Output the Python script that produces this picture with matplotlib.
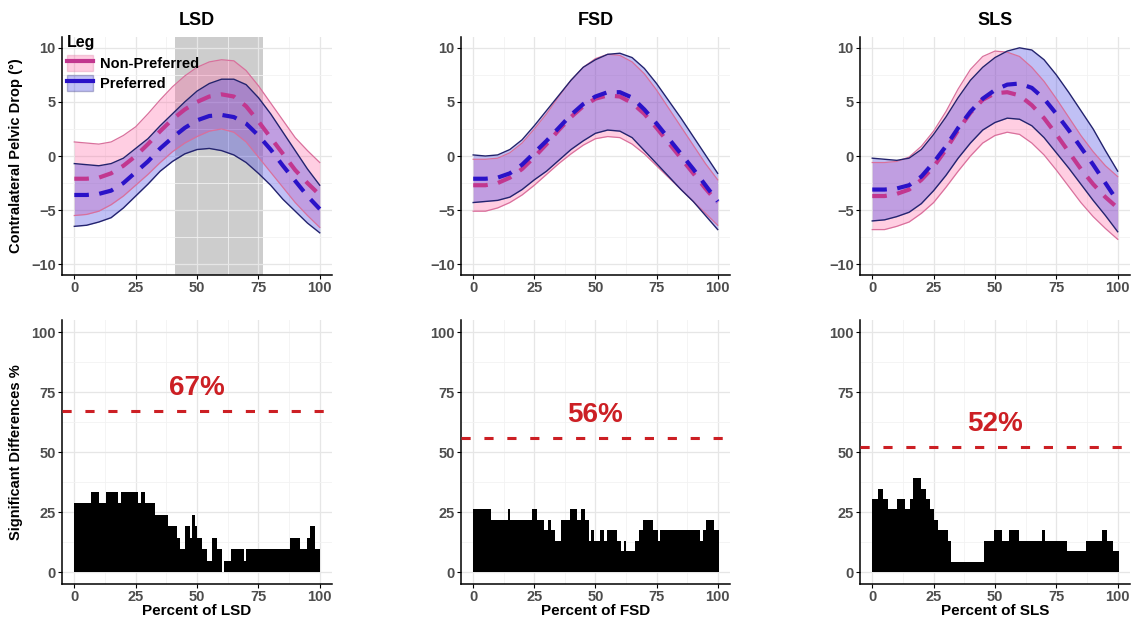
import numpy as np
import matplotlib.pyplot as plt
from matplotlib.patches import Patch
from matplotlib.lines import Line2D
from matplotlib.ticker import MultipleLocator

plt.rcParams['font.family'] = ['Liberation Sans', 'DejaVu Sans']
plt.rcParams['font.weight'] = 'bold'

# ---- datos ----
tareas = ["LSD", "FSD", "SLS"]
pct = np.arange(0, 101, 5)

# caída pélvica: media y desviación (cada 5 %)
lsd_np_mean = [-2.1, -2.1, -2.0, -1.6, -0.9, 0.0, 1.1, 2.3, 3.4, 4.3, 5.0, 5.5, 5.7, 5.5, 4.6, 3.2, 1.7, 0.2, -1.3, -2.5, -3.6]
lsd_np_sd = [3.4, 3.3, 3.1, 2.9, 2.8, 2.7, 2.8, 2.9, 3.0, 3.1, 3.2, 3.2, 3.2, 3.3, 3.3, 3.3, 3.2, 3.1, 3.0, 3.0, 3.0]
lsd_p_mean = [-3.6, -3.6, -3.5, -3.2, -2.5, -1.5, -0.5, 0.7, 1.7, 2.6, 3.3, 3.7, 3.8, 3.6, 3.0, 1.9, 0.6, -0.9, -2.3, -3.7, -4.9]
lsd_p_sd = [2.9, 2.8, 2.6, 2.5, 2.3, 2.2, 2.1, 2.1, 2.2, 2.4, 2.7, 3.0, 3.3, 3.5, 3.6, 3.5, 3.3, 3.1, 2.8, 2.5, 2.2]

fsd_np_mean = [-2.7, -2.7, -2.5, -2.0, -1.2, -0.1, 1.1, 2.4, 3.6, 4.6, 5.3, 5.6, 5.5, 4.9, 3.9, 2.6, 1.2, -0.2, -1.6, -3.0, -4.3]
fsd_np_sd = [2.4, 2.4, 2.3, 2.3, 2.4, 2.6, 2.8, 3.1, 3.4, 3.6, 3.7, 3.8, 3.8, 3.8, 3.7, 3.5, 3.2, 2.9, 2.6, 2.3, 2.1]
fsd_p_mean = [-2.1, -2.1, -2.0, -1.6, -0.8, 0.3, 1.4, 2.6, 3.8, 4.8, 5.5, 5.9, 5.9, 5.4, 4.3, 3.0, 1.6, 0.2, -1.2, -2.7, -4.2]
fsd_p_sd = [2.2, 2.1, 2.1, 2.2, 2.3, 2.5, 2.8, 3.0, 3.2, 3.4, 3.4, 3.5, 3.6, 3.7, 3.8, 3.7, 3.5, 3.3, 3.0, 2.8, 2.6]

sls_np_mean = [-3.7, -3.7, -3.5, -3.1, -2.2, -1.0, 0.6, 2.4, 4.0, 5.2, 5.8, 5.9, 5.6, 4.7, 3.5, 2.0, 0.4, -1.2, -2.6, -3.8, -4.8]
sls_np_sd = [3.1, 3.1, 3.0, 3.0, 3.1, 3.3, 3.5, 3.8, 4.0, 4.0, 3.9, 3.7, 3.6, 3.5, 3.4, 3.3, 3.2, 3.1, 3.0, 2.9, 2.9]
sls_p_mean = [-3.1, -3.1, -3.0, -2.7, -1.9, -0.6, 0.9, 2.6, 4.1, 5.3, 6.1, 6.6, 6.7, 6.3, 5.3, 3.9, 2.4, 0.8, -0.8, -2.5, -4.2]
sls_p_sd = [2.9, 2.8, 2.6, 2.5, 2.5, 2.6, 2.7, 2.8, 2.9, 2.9, 3.0, 3.1, 3.3, 3.5, 3.6, 3.6, 3.5, 3.4, 3.3, 3.0, 2.8]

# zona sombreada en LSD
lsd_zona = (41, 77)

# % de diferencias significativas (escalones)
lsd_n = 21
lsd_edges = [0, 7, 10, 13, 18, 19, 26, 27, 29, 33, 38, 42, 43, 45, 47, 48, 49, 50, 52, 54,
             56, 58, 60, 61, 64, 69, 70, 88, 92, 95, 96, 98, 100]
lsd_counts = [6, 7, 6, 7, 6, 7, 6, 7, 6, 5, 4, 3, 2, 4, 3, 5, 4, 3, 2, 1,
              3, 2, 0, 1, 2, 1, 2, 3, 2, 3, 4, 2]

fsd_n = 23
fsd_edges = [0, 7.3, 14.1, 15.2, 23.9, 26, 29, 30.8, 31.7, 33.3, 35.8, 39.8, 42.5, 43.9, 45.9, 47.3,
             48.2, 49.3, 51.8, 53.7, 54.7, 58.8, 60.6, 61.5, 62.5, 66.3, 68, 69.6, 73.4, 75.5, 76.4,
             92.7, 93.8, 95.4, 98.4, 100.5]
fsd_counts = [6, 5, 6, 5, 6, 5, 4, 5, 4, 3, 5, 6, 5, 6, 5, 3, 4, 3, 4, 3,
              4, 3, 2, 3, 2, 3, 4, 5, 4, 3, 4, 3, 4, 5, 4]

sls_n = 23
sls_edges = [0, 2.3, 4.3, 6.4, 10.2, 13.4, 15.2, 16.8, 19.9, 22, 23.6, 25.1, 26.7, 30.8, 32.1,
             45.6, 49.7, 52.7, 55.6, 59.9, 69.1, 70.3, 79.5, 87, 93.5, 95.8, 98.2, 100.5]
sls_counts = [7, 8, 7, 6, 7, 6, 7, 9, 8, 7, 6, 5, 4, 3, 1, 3, 4, 3, 4, 3, 4, 3, 2, 3, 4, 3, 2]

umbrales = [67, 56, 52]

medias = [(lsd_np_mean, lsd_np_sd, lsd_p_mean, lsd_p_sd),
          (fsd_np_mean, fsd_np_sd, fsd_p_mean, fsd_p_sd),
          (sls_np_mean, sls_np_sd, sls_p_mean, sls_p_sd)]
escalones = [(lsd_edges, lsd_counts, lsd_n),
             (fsd_edges, fsd_counts, fsd_n),
             (sls_edges, sls_counts, sls_n)]

# ---- estilo ----
rosa_fill, rosa_borde, rosa_media = "#ff5fa0", "#d9709c", "#c2378f"
azul_fill, azul_borde, azul_media = "#3030e0", "#23236e", "#2a12c8"
rojo = "#cc1f24"
gris_tick = "#4d4d4d"

fig = plt.figure(figsize=(11.32, 6.19), dpi=100)
cols = [0.0548, 0.4072, 0.7597]
anchos = [0.2385, 0.2376, 0.2385]


def estilo(ax, ymin, ymax, ymaj, ymin_step):
    ax.set_xlim(-5, 105)
    ax.set_ylim(ymin, ymax)
    ax.xaxis.set_major_locator(MultipleLocator(25))
    ax.xaxis.set_minor_locator(MultipleLocator(12.5))
    ax.yaxis.set_major_locator(MultipleLocator(ymaj))
    ax.yaxis.set_minor_locator(MultipleLocator(ymin_step))
    ax.set_axisbelow(True)
    ax.grid(which="major", color="#e6e6e6", lw=0.9)
    ax.grid(which="minor", color="#f2f2f2", lw=0.6)
    for s in ["top", "right"]:
        ax.spines[s].set_visible(False)
    for s in ["left", "bottom"]:
        ax.spines[s].set_linewidth(1.1)
    ax.tick_params(which="major", length=3, width=0.8, labelsize=10.5,
                   labelcolor=gris_tick, pad=1.5)
    ax.tick_params(which="minor", length=0)


for i, tarea in enumerate(tareas):
    np_m, np_s, p_m, p_s = [np.array(a) for a in medias[i]]

    # ---- fila superior ----
    ax = fig.add_axes([cols[i], 0.5557, anchos[i], 0.3845])
    estilo(ax, -11, 11, 5, 2.5)
    if tarea == "LSD":
        ax.axvspan(lsd_zona[0], lsd_zona[1], color="#cdcdcd", lw=0, zorder=0.5)
    ax.fill_between(pct, np_m - np_s, np_m + np_s, color=rosa_fill, alpha=0.3, lw=0, zorder=1)
    ax.fill_between(pct, p_m - p_s, p_m + p_s, color=azul_fill, alpha=0.3, lw=0, zorder=1.1)
    ax.plot(pct, np_m + np_s, color=rosa_borde, lw=0.9, zorder=2)
    ax.plot(pct, np_m - np_s, color=rosa_borde, lw=0.9, zorder=2)
    ax.plot(pct, p_m + p_s, color=azul_borde, lw=1.0, zorder=2.1)
    ax.plot(pct, p_m - p_s, color=azul_borde, lw=1.0, zorder=2.1)
    ax.plot(pct, np_m, color=rosa_media, lw=3, ls=(0, (3.5, 2.5)), zorder=3)
    ax.plot(pct, p_m, color=azul_media, lw=3, ls=(0, (3.5, 2.5)), zorder=3.1)
    ax.set_title(tarea, fontsize=13, fontweight="bold", pad=9)
    if i == 0:
        ax.set_ylabel("Contralateral Pelvic Drop (°)", fontsize=10.5, fontweight="bold", labelpad=6)
        handles = [(Patch(facecolor=rosa_fill, alpha=0.3, edgecolor=rosa_borde),
                    Line2D([], [], color=rosa_media, lw=3)),
                   (Patch(facecolor=azul_fill, alpha=0.3, edgecolor=azul_borde),
                    Line2D([], [], color=azul_media, lw=3))]
        ax.legend(handles, ["Non-Preferred", "Preferred"], title="Leg", loc="upper left",
                  bbox_to_anchor=(-0.02, 1.05), frameon=False, fontsize=10.5,
                  title_fontproperties={"weight": "bold", "size": 11.5}, alignment="left",
                  handlelength=1.8, handleheight=1.3, handletextpad=0.5, labelspacing=0.3,
                  borderpad=0.2)

    # ---- fila inferior ----
    edges, counts, n = escalones[i]
    alturas = np.array(counts) / n * 100
    ax2 = fig.add_axes([cols[i], 0.0565, anchos[i], 0.4265])
    estilo(ax2, -5, 105, 25, 12.5)
    ax2.stairs(alturas, edges, fill=True, color="black", zorder=2)
    ax2.axhline(umbrales[i], color=rojo, lw=2.2, ls=(0, (3, 4.5)), zorder=3)
    ax2.text(50, umbrales[i] + 9.5, f"{umbrales[i]}%", color=rojo, fontsize=20,
             fontweight="bold", ha="center", va="center", zorder=4)
    ax2.set_xlabel(f"Percent of {tarea}", fontsize=11, fontweight="bold", labelpad=0)
    if i == 0:
        ax2.set_ylabel("Significant Differences %", fontsize=10.5, fontweight="bold", labelpad=6)

fig.savefig("out.png", dpi=100)
